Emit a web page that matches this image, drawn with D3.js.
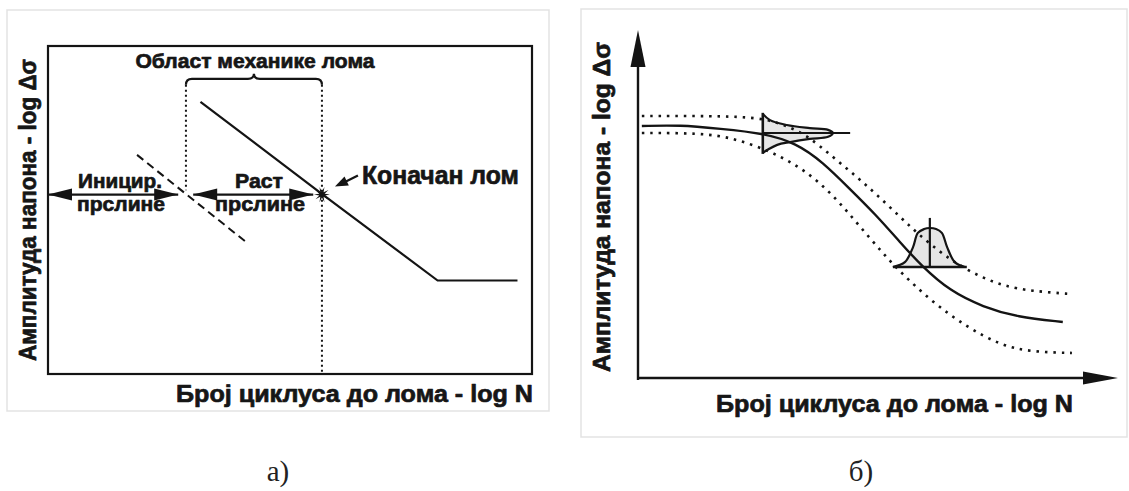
<!DOCTYPE html>
<html lang="sr">
<head>
<meta charset="utf-8">
<title>Дијаграм замора</title>
<script src="https://cdn.jsdelivr.net/npm/d3@7"></script>
<style>
  html, body { margin: 0; padding: 0; background: #fff; }
  svg { display: block; }
  .lbl { font-family: "Liberation Sans", Arial, sans-serif; font-weight: 700; fill: #161616;
         stroke: #161616; stroke-width: 0.7px; stroke-linejoin: round; }
  .cap { font-family: "Liberation Serif", "Times New Roman", serif; fill: #222; }
</style>
</head>
<body>
<svg id="chart" width="1129" height="491"></svg>
<script>
/* ============================
   DATA  (log N, log Δσ у произвољним јединицама 0..10)
============================ */
// а) Вејлерова крива и области
const SN_LINE = [[3.15, 8.3], [5.65, 5.5], [8.05, 2.85], [9.7, 2.85]];
const INIT_LINE = [[1.84, 6.68], [4.07, 4.05]];
const REGION_X = [2.85, 5.66];          // област механике лома
const BRACKET_Y = 9.0;
const REGION_LEFT_BOTTOM = 5.6;
const ARROW_Y = 5.47;
const INIT_ARROW = [0, 2.69];
const GROWTH_ARROW = [3.0, 5.48];
const FRACTURE = [5.66, 5.47];

// б) средња крива и опсег расипања
const MEAN_CURVE = [
  [0.08, 7.24], [0.88, 7.27], [1.71, 7.16], [2.6, 7.04], [3.3, 6.75], [3.85, 6.2],
  [4.4, 5.45], [4.95, 4.7], [5.46, 3.9], [5.92, 3.2], [6.5, 2.5], [7.19, 2.04],
  [7.9, 1.75], [8.85, 1.61]
];
const UPPER_BAND = [
  [0.08, 7.53], [1.29, 7.53], [2.13, 7.51], [2.65, 7.44], [3.06, 7.27], [3.52, 6.98],
  [4.06, 6.35], [4.56, 5.78], [4.98, 5.26], [5.46, 4.63], [5.81, 4.17], [6.29, 3.62],
  [6.71, 3.22], [7.19, 2.87], [7.65, 2.64], [8.17, 2.5], [9.06, 2.41]
];
const LOWER_BAND = [
  [0.08, 7.04], [1.29, 7.04], [1.98, 6.9], [2.69, 6.55], [3.23, 6.18], [3.73, 5.69],
  [4.21, 5.03], [4.63, 4.34], [5.1, 3.59], [5.46, 3.05], [6.15, 2.16], [6.85, 1.47],
  [7.54, 0.95], [8.17, 0.75], [9.04, 0.72]
];
// расподела по напону (бочно)
const PDF_SIDE = [
  [2.6, 7.59], [2.75, 7.41], [3.1, 7.27], [3.58, 7.18], [3.96, 7.13], [4.06, 7.04],
  [3.96, 6.93], [3.58, 6.87], [3.17, 6.78], [2.9, 6.7], [2.69, 6.55], [2.6, 6.47]
];
const PDF_SIDE_BASE = [2.6, 6.44, 7.62];   // x, y од, y до
const PDF_SIDE_MEAN = [7.04, 2.6, 4.42];   // y, x од, x до
// расподела по броју циклуса
const PDF_UP = [
  [5.31, 3.19], [5.56, 3.33], [5.73, 3.76], [5.83, 4.17], [5.96, 4.28], [6.08, 4.31],
  [6.21, 4.28], [6.33, 4.17], [6.44, 3.76], [6.6, 3.33], [6.81, 3.19]
];
const PDF_UP_BASE = [3.19, 5.31, 6.85];    // y, x од, x до
const PDF_UP_MEAN = [6.08, 3.19, 4.6];     // x, y од, y до

// текстови
const LABEL_X = "Број циклуса до лома - log N";
const LABEL_Y = "Амплитуда напона - log Δσ";
const LABEL_REGION = "Област механике лома";
const LABEL_INIT = ["Иницир.", "прслине"];
const LABEL_GROWTH = ["Раст", "прслине"];
const LABEL_FRACTURE = "Коначан лом";
const CAPTIONS = ["а)", "б)"];

/* ============================
   SCALES
============================ */
const xL = d3.scaleLinear().domain([0, 10]).range([48, 532]);
const yL = d3.scaleLinear().domain([0, 10]).range([374, 46]);
const xR = d3.scaleLinear().domain([0, 10]).range([638, 1118]);
const yR = d3.scaleLinear().domain([0, 10]).range([378, 30]);

const INK = "#141414";
const svg = d3.select("#chart");

/* ============================
   HELPERS
============================ */
function head(g, tip, from, len, half) {
  const dx = tip[0] - from[0], dy = tip[1] - from[1];
  const d = Math.hypot(dx, dy) || 1;
  const ux = dx / d, uy = dy / d;
  const bx = tip[0] - ux * len, by = tip[1] - uy * len;
  g.append("polygon")
    .attr("points", [tip, [bx - uy * half, by + ux * half], [bx + uy * half, by - ux * half]]
      .map(p => p.join(",")).join(" "))
    .attr("fill", INK);
}

function doubleArrow(g, a, b, len, half) {
  g.append("line")
    .attr("x1", a[0]).attr("y1", a[1]).attr("x2", b[0]).attr("y2", b[1])
    .attr("stroke", INK).attr("stroke-width", 2.2);
  head(g, a, b, len, half);
  head(g, b, a, len, half);
}

function label(g, txt, x, y, size, len, anchor = "middle") {
  const t = g.append("text").attr("class", "lbl")
    .attr("x", x).attr("y", y)
    .attr("font-size", size)
    .attr("text-anchor", anchor)
    .text(txt);
  if (len) t.attr("textLength", len).attr("lengthAdjust", "spacingAndGlyphs");
  return t;
}

function frame(x0, y0, x1, y1) {
  svg.append("rect")
    .attr("x", x0).attr("y", y0).attr("width", x1 - x0).attr("height", y1 - y0)
    .attr("fill", "none").attr("stroke", "#e3e3e3").attr("stroke-width", 1.5);
}

/* ============================
   PANEL а)
============================ */
function drawLeft() {
  frame(7, 10, 549, 411);
  const g = svg.append("g");

  g.append("rect")
    .attr("x", xL(0)).attr("y", yL(10))
    .attr("width", xL(10) - xL(0)).attr("height", yL(0) - yL(10))
    .attr("fill", "none").attr("stroke", INK).attr("stroke-width", 2.2);

  // текстови иза линија
  label(g, LABEL_INIT[0], 120, 188, 21, 84);
  label(g, LABEL_INIT[1], 121, 211, 21, 88);
  label(g, LABEL_GROWTH[0], 259, 188, 21, 48);
  label(g, LABEL_GROWTH[1], 260, 211, 21, 90);

  const line = d3.line().x(d => xL(d[0])).y(d => yL(d[1]));

  g.append("path").attr("d", line(SN_LINE))
    .attr("fill", "none").attr("stroke", INK).attr("stroke-width", 2.2);

  g.append("path").attr("d", line(INIT_LINE))
    .attr("fill", "none").attr("stroke", INK).attr("stroke-width", 2)
    .attr("stroke-dasharray", "8 5");

  // тачкасте вертикале
  g.append("line")
    .attr("x1", xL(REGION_X[0])).attr("x2", xL(REGION_X[0]))
    .attr("y1", yL(BRACKET_Y) + 6).attr("y2", yL(REGION_LEFT_BOTTOM))
    .attr("stroke", INK).attr("stroke-width", 2).attr("stroke-dasharray", "2 3");
  g.append("line")
    .attr("x1", xL(REGION_X[1])).attr("x2", xL(REGION_X[1]))
    .attr("y1", yL(BRACKET_Y) + 6).attr("y2", yL(0))
    .attr("stroke", INK).attr("stroke-width", 2).attr("stroke-dasharray", "2 3");

  // витичаста заграда
  const bx0 = xL(REGION_X[0]), bx1 = xL(REGION_X[1]), by = yL(BRACKET_Y);
  const bm = (bx0 + bx1) / 2;
  const p = d3.path();
  p.moveTo(bx0, by + 6);
  p.quadraticCurveTo(bx0, by, bx0 + 6, by);
  p.lineTo(bm - 6, by);
  p.quadraticCurveTo(bm, by, bm, by - 5);
  p.quadraticCurveTo(bm, by, bm + 6, by);
  p.lineTo(bx1 - 6, by);
  p.quadraticCurveTo(bx1, by, bx1, by + 6);
  g.append("path").attr("d", p.toString())
    .attr("fill", "none").attr("stroke", INK).attr("stroke-width", 2.2);

  label(g, LABEL_REGION, bm + 1, 68, 21, 239);

  // стрелице
  doubleArrow(g, [xL(INIT_ARROW[0]), yL(ARROW_Y)], [xL(INIT_ARROW[1]), yL(ARROW_Y)], 24, 6);
  doubleArrow(g, [xL(GROWTH_ARROW[0]), yL(ARROW_Y)], [xL(GROWTH_ARROW[1]), yL(ARROW_Y)], 24, 6);

  // лом
  const fx = xL(FRACTURE[0]), fy = yL(FRACTURE[1]);
  const star = d3.range(20).map(i => {
    const a = i * Math.PI / 10;
    const r = i % 2 ? 2.8 : 8;
    return [fx + r * Math.cos(a), fy + r * Math.sin(a)];
  });
  g.append("polygon").attr("points", star.map(s => s.join(",")).join(" ")).attr("fill", INK);

  g.append("line")
    .attr("x1", fx + 36).attr("y1", fy - 19).attr("x2", fx + 20).attr("y2", fy - 11)
    .attr("stroke", INK).attr("stroke-width", 2.2);
  head(g, [fx + 13, fy - 8], [fx + 36, fy - 19], 13, 5);

  label(g, LABEL_FRACTURE, fx + 40, 184, 26, 157, "start");

  // осе
  label(g, LABEL_X, xL(10) + 1, 402, 24, 357, "end");
  label(g, LABEL_Y, 0, 0, 23, 302).attr("transform", "translate(36,210) rotate(-90)");

  svg.append("text").attr("class", "cap")
    .attr("x", 278).attr("y", 481).attr("font-size", 29)
    .attr("text-anchor", "middle").text(CAPTIONS[0]);
}

/* ============================
   PANEL б)
============================ */
function drawRight() {
  frame(581, 9, 1127, 437);
  const g = svg.append("g");

  const smooth = d3.line().x(d => xR(d[0])).y(d => yR(d[1])).curve(d3.curveCatmullRom.alpha(0.5));
  const soft = d3.line().x(d => xR(d[0])).y(d => yR(d[1])).curve(d3.curveBasis);

  // попуна расподела
  g.append("path").attr("d", smooth(PDF_SIDE) + "Z").attr("fill", "#e6e6e6");
  g.append("path").attr("d", smooth(PDF_UP) + "Z").attr("fill", "#e6e6e6");

  // опсег расипања
  [UPPER_BAND, LOWER_BAND].forEach(b => {
    g.append("path").attr("d", soft(b))
      .attr("fill", "none").attr("stroke", INK).attr("stroke-width", 2.6)
      .attr("stroke-dasharray", "2.5 5.9");
  });

  g.append("path").attr("d", soft(MEAN_CURVE))
    .attr("fill", "none").attr("stroke", INK).attr("stroke-width", 2.4);

  // контуре расподела
  g.append("path").attr("d", smooth(PDF_SIDE))
    .attr("fill", "none").attr("stroke", INK).attr("stroke-width", 2.2);
  g.append("path").attr("d", smooth(PDF_UP))
    .attr("fill", "none").attr("stroke", INK).attr("stroke-width", 2.2);

  g.append("line")
    .attr("x1", xR(PDF_SIDE_BASE[0])).attr("x2", xR(PDF_SIDE_BASE[0]))
    .attr("y1", yR(PDF_SIDE_BASE[1])).attr("y2", yR(PDF_SIDE_BASE[2]))
    .attr("stroke", INK).attr("stroke-width", 2.6);
  g.append("line")
    .attr("x1", xR(PDF_SIDE_MEAN[1])).attr("x2", xR(PDF_SIDE_MEAN[2]))
    .attr("y1", yR(PDF_SIDE_MEAN[0])).attr("y2", yR(PDF_SIDE_MEAN[0]))
    .attr("stroke", INK).attr("stroke-width", 2.2);

  g.append("line")
    .attr("x1", xR(PDF_UP_BASE[1])).attr("x2", xR(PDF_UP_BASE[2]))
    .attr("y1", yR(PDF_UP_BASE[0])).attr("y2", yR(PDF_UP_BASE[0]))
    .attr("stroke", INK).attr("stroke-width", 2.6);
  g.append("line")
    .attr("x1", xR(PDF_UP_MEAN[0])).attr("x2", xR(PDF_UP_MEAN[0]))
    .attr("y1", yR(PDF_UP_MEAN[1])).attr("y2", yR(PDF_UP_MEAN[2]))
    .attr("stroke", INK).attr("stroke-width", 2.2);

  // осе са стрелицама
  const ox = xR(0), oy = yR(0);
  g.append("line").attr("x1", ox).attr("y1", oy + 2).attr("x2", ox).attr("y2", yR(10) + 30)
    .attr("stroke", INK).attr("stroke-width", 2.4);
  head(g, [ox, yR(10)], [ox, oy], 37, 7.5);
  g.append("line").attr("x1", ox - 1).attr("y1", oy).attr("x2", xR(10) - 30).attr("y2", oy)
    .attr("stroke", INK).attr("stroke-width", 2.4);
  head(g, [xR(10), oy], [ox, oy], 35, 6.5);

  label(g, LABEL_X, 1073, 412, 24, 357, "end");
  label(g, LABEL_Y, 0, 0, 23, 330).attr("transform", "translate(610,207) rotate(-90)");

  svg.append("text").attr("class", "cap")
    .attr("x", 861).attr("y", 481).attr("font-size", 29)
    .attr("text-anchor", "middle").text(CAPTIONS[1]);
}

window.addEventListener("DOMContentLoaded", () => {
  drawLeft();
  drawRight();
});
</script>
</body>
</html>
